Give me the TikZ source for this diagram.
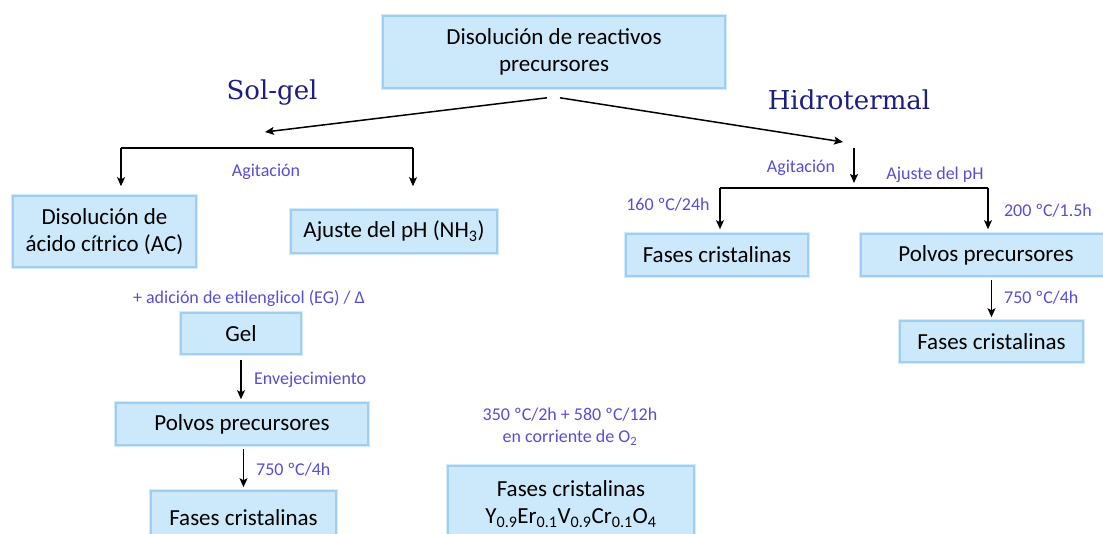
\documentclass[tikz,border=0pt]{standalone}
\usepackage{fontspec}
\setmainfont{Carlito}
\newfontfamily\titlefont{DejaVu Serif}
\usetikzlibrary{arrows.meta}
\definecolor{boxfill}{RGB}{204,233,252}
\definecolor{boxline}{RGB}{160,206,243}
\definecolor{boxglow}{RGB}{214,234,250}
\definecolor{note}{RGB}{88,78,214}
\definecolor{method}{RGB}{30,30,130}
\tikzset{
  stage/.style={draw=boxline, line width=1.6pt, fill=boxfill, align=center,
    font=\fontsize{23}{27}\selectfont, text=black, inner sep=0pt,
    preaction={draw=boxglow, line width=4pt}},
  note/.style={text=note, font=\fontsize{18}{22}\selectfont, align=center, inner sep=0pt},
  method/.style={text=method, font=\titlefont\fontsize{26}{30}\selectfont, inner sep=0pt},
  arr/.style={-{Stealth[length=9pt,width=8pt,inset=2pt]}, line width=1.5pt, black},
  link/.style={line width=1.5pt, black},
}
\begin{document}
\begin{tikzpicture}[x=1pt,y=-1pt]
\useasboundingbox (0,0) rectangle (1103,533);
\fill[white] (0,0) rectangle (1103,533);

% stages
\node[stage, minimum width=342pt, minimum height=72pt] (top) at (554,52) {Disolución de reactivos\\precursores};
\node[stage, minimum width=183pt, minimum height=71pt] (ac) at (104.5,231.5) {Disolución de\\ácido cítrico (AC)};
\node[stage, minimum width=206pt, minimum height=43pt] (ph) at (394,231.5) {Ajuste del pH (NH\textsubscript{3})};
\node[stage, minimum width=120pt, minimum height=41pt] (gel) at (241,333.5) {Gel};
\node[stage, minimum width=252pt, minimum height=42pt] (polvL) at (242,424) {Polvos precursores};
\node[stage, minimum width=185pt, minimum height=54pt] (fasL) at (243.5,518) {Fases cristalinas};
\node[stage, minimum width=246pt, minimum height=76pt] (fasY) at (571,504) {Fases cristalinas\\Y\textsubscript{0.9}Er\textsubscript{0.1}V\textsubscript{0.9}Cr\textsubscript{0.1}O\textsubscript{4}};
\node[stage, minimum width=182pt, minimum height=42pt] (fasH) at (717,255) {Fases cristalinas};
\node[stage, minimum width=250pt, minimum height=42pt] (polvR) at (986,255) {Polvos precursores};
\node[stage, minimum width=183pt, minimum height=41pt] (fasR) at (991.5,341.5) {Fases cristalinas};

% method titles
\node[method] (sg) at (272,93) {Sol-gel};
\node[method] (hd) at (849,100) {Hidrotermal};

% process notes
\node[note] (n1) at (266,172) {Agitación};
\node[note] (n2) at (249,298) {+ adición de etilenglicol (EG) / Δ};
\node[note, anchor=west] (n3) at (254,380) {Envejecimiento};
\node[note, anchor=west] (n4) at (256,470) {750 ºC/4h};
\node[note] (n5) at (570,427) {350 ºC/2h + 580 ºC/12h\\en corriente de O\textsubscript{2}};
\node[note] (n6) at (801,168) {Agitación};
\node[note] (n7) at (935,175) {Ajuste del pH};
\node[note] (n8) at (668,205) {160 ºC/24h};
\node[note] (n9) at (1048,211) {200 ºC/1.5h};
\node[note, anchor=west] (n10) at (1004,298) {750 ºC/4h};

% branch points
\coordinate (sgTip) at (265,132);
\coordinate (hdTip) at (843,142);
\coordinate (lbL) at (121,148);
\coordinate (lbR) at (413,148);
\coordinate (hdDrop) at (854,148);
\coordinate (rbL) at (720,188);
\coordinate (rbR) at (988,188);

% connectors from the top stage
\draw[arr] ([xshift=-7pt,yshift=-9pt]top.south) -- (sgTip);
\draw[arr] ([xshift=6pt,yshift=-9pt]top.south) -- (hdTip);

% sol-gel branch
\draw[link] (lbL) -- (lbR);
\draw[arr] (lbL) -- ([yshift=9pt]lbL |- ac.north);
\draw[arr] (lbR) -- ([yshift=23pt]lbR |- ph.north);
\draw[arr] ([yshift=-5pt]gel.south) -- ([yshift=3pt]gel.south |- polvL.north);
\draw[arr] ([yshift=-3pt]polvL.south -| fasL.north) -- ([yshift=3pt]fasL.north);

% hydrothermal branch
\draw[arr] (hdDrop) -- ([yshift=5pt]hdDrop |- rbL);
\draw[link] (rbL) -- (rbR);
\draw[arr] (rbL) -- ([yshift=4pt]rbL |- fasH.north);
\draw[arr] (rbR) -- ([yshift=4pt]rbR |- polvR.north);
\draw[arr] ([yshift=-3pt]fasR.north |- polvR.south) -- ([yshift=3pt]fasR.north);
\end{tikzpicture}
\end{document}
